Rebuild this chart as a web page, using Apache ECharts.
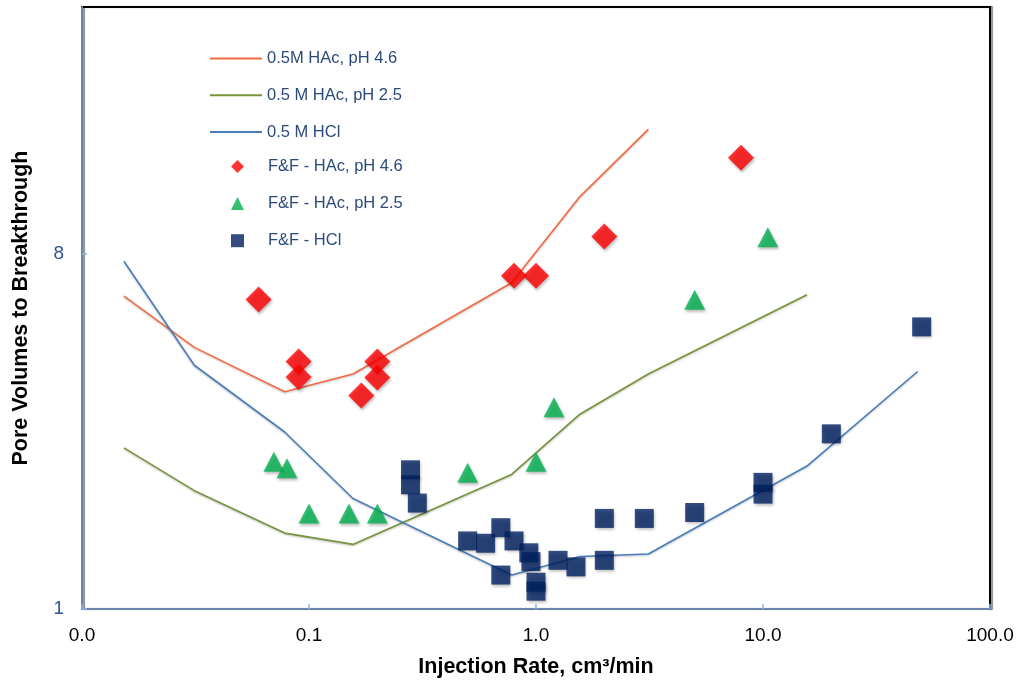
<!DOCTYPE html>
<html>
<head>
<meta charset="utf-8">
<title>Pore Volumes to Breakthrough vs Injection Rate</title>
<script src="https://cdn.jsdelivr.net/npm/echarts@6/dist/echarts.min.js"></script>
<style>
  html, body { margin: 0; padding: 0; background: #ffffff; }
  #chart { width: 1021px; height: 683px; }
</style>
</head>
<body>
<div id="chart"></div>
<script>
// Model curves (injection rate in cm3/min, pore volumes to breakthrough)
const modelRates = [0.0153, 0.03125, 0.078125, 0.15625, 0.78125, 1.5625, 3.125, 15.625, 48];
const pvModelHAc46 = [6.25, 4.63, 3.57, 3.96, 6.76, 11.2, 16.6];
const pvModelHAc25 = [2.57, 2.0, 1.56, 1.46, 2.2, 3.13, 3.96, 6.3];
const pvModelHCl = [7.67, 4.17, 2.82, 1.91, 1.22, 1.36, 1.38, 2.31, 4.02];

// Fredd & Fogler experimental points
const ffRateHAc46 = [0.06, 0.09, 0.09, 0.17, 0.2, 0.2, 0.8, 1.0, 2.0, 8.0];
const ffPvHAc46 = [6.13, 4.26, 3.89, 3.49, 4.26, 3.88, 7.04, 7.04, 8.87, 14.05];

const ffRateHAc25 = [0.07, 0.08, 0.1, 0.15, 0.2, 0.5, 1.0, 1.2, 5.0, 10.5];
const ffPvHAc25 = [2.37, 2.28, 1.75, 1.75, 1.75, 2.22, 2.37, 3.26, 6.12, 8.82];

const ffRateHCl = [0.28, 0.28, 0.3, 0.5, 0.6, 0.7, 0.8, 0.93, 0.95, 0.7, 1.0, 1.0, 1.25, 1.5, 2.0, 3.0, 2.0, 5.0, 10.0, 10.0, 20.0, 50.0];
const ffPvHCl = [2.26, 2.07, 1.86, 1.49, 1.47, 1.61, 1.49, 1.39, 1.32, 1.22, 1.17, 1.11, 1.33, 1.28, 1.70, 1.70, 1.33, 1.76, 2.10, 1.96, 2.79, 5.22];

// Axis tick labels
const xTickLabels = { '0.01': '0.0', '0.1': '0.1', '1': '1.0', '10': '10.0', '100': '100.0' };
const yTickLabels = { '1': '1', '8': '8' };

const names = {
  mHAc46: '0.5M HAc, pH 4.6',
  mHAc25: '0.5 M HAc, pH 2.5',
  mHCl: '0.5 M HCl',
  fHAc46: 'F&F - HAc, pH 4.6',
  fHAc25: 'F&F - HAc, pH 2.5',
  fHCl: 'F&F - HCl'
};

function pairs(xs, ys) {
  return ys.map((y, i) => [xs[i], y]);
}

function keyOf(v) {
  return String(parseFloat(v.toPrecision(6)));
}

const lineShadow = { shadowColor: 'rgba(0,0,0,0.25)', shadowBlur: 2, shadowOffsetY: 1 };
const markShadow = { shadowColor: 'rgba(0,0,0,0.35)', shadowBlur: 3, shadowOffsetX: 1, shadowOffsetY: 2 };
const legendText = { color: '#2b4a7a', fontSize: 16.5, lineHeight: 16 };

const chart = echarts.init(document.getElementById('chart'), null, { renderer: 'canvas' });

const option = {
  animation: false,
  backgroundColor: '#ffffff',
  textStyle: { fontFamily: '"Liberation Sans", Arial, sans-serif' },
  grid: {
    left: 82, right: 31, top: 7, bottom: 71,
    show: true,
    borderColor: '#000000',
    borderWidth: 2,
    shadowColor: 'rgba(0,0,0,0.45)',
    shadowBlur: 1,
    shadowOffsetX: 2,
    shadowOffsetY: 0
  },
  legend: [
    {
      left: 205, top: 45,
      orient: 'vertical',
      itemWidth: 52, itemHeight: 2, itemGap: 19.8,
      textStyle: legendText,
      data: [
        { name: names.mHAc46, icon: 'rect' },
        { name: names.mHAc25, icon: 'rect' },
        { name: names.mHCl, icon: 'rect' }
      ]
    },
    {
      left: 226, top: 153,
      orient: 'vertical',
      itemWidth: 13, itemHeight: 13, itemGap: 20.1,
      textStyle: Object.assign({ padding: [0, 0, 0, 19] }, legendText),
      data: [
        { name: names.fHAc46, icon: 'diamond' },
        { name: names.fHAc25, icon: 'triangle' },
        { name: names.fHCl, icon: 'rect' }
      ]
    }
  ],
  xAxis: {
    type: 'log',
    logBase: 10,
    min: 0.01,
    max: 100,
    interval: 1,
    name: 'Injection Rate, cm³/min',
    nameLocation: 'middle',
    nameGap: 47,
    nameTextStyle: { color: '#000000', fontSize: 21.5, fontWeight: 'bold' },
    axisLine: { show: true, lineStyle: { color: '#8eb4e3', width: 1.5 } },
    axisTick: { show: true, inside: true, length: 5, lineStyle: { color: '#8eb4e3', width: 1.5 } },
    axisLabel: {
      color: '#000000', fontSize: 19, margin: 17,
      formatter: v => xTickLabels[keyOf(v)] ?? ''
    },
    splitLine: { show: false },
    minorTick: { show: false }
  },
  yAxis: {
    type: 'log',
    logBase: 8,
    min: 1,
    max: 34,
    interval: 1,
    name: 'Pore Volumes to Breakthrough',
    nameLocation: 'middle',
    nameGap: 50,
    nameTextStyle: { color: '#000000', fontSize: 21.5, fontWeight: 'bold' },
    axisLine: { show: true, lineStyle: { color: '#8eb4e3', width: 1.5 } },
    axisTick: { show: true, inside: true, length: 5, lineStyle: { color: '#8eb4e3', width: 1.5 } },
    axisLabel: {
      color: '#2f5597', fontSize: 19, margin: 18,
      showMaxLabel: false,
      formatter: v => yTickLabels[keyOf(v)] ?? ''
    },
    splitLine: { show: false }
  },
  series: [
    {
      name: names.mHAc46, type: 'line', symbol: 'none', z: 2,
      data: pairs(modelRates, pvModelHAc46),
      lineStyle: Object.assign({ color: '#f26b43', width: 1.6 }, lineShadow),
      itemStyle: { color: '#f26b43' }
    },
    {
      name: names.mHAc25, type: 'line', symbol: 'none', z: 2,
      data: pairs(modelRates, pvModelHAc25),
      lineStyle: Object.assign({ color: '#77933c', width: 1.6 }, lineShadow),
      itemStyle: { color: '#77933c' }
    },
    {
      name: names.mHCl, type: 'line', symbol: 'none', z: 2,
      data: pairs(modelRates, pvModelHCl),
      lineStyle: Object.assign({ color: '#4a7ebb', width: 1.6 }, lineShadow),
      itemStyle: { color: '#4a7ebb' }
    },
    {
      name: names.fHAc46, type: 'scatter', symbol: 'diamond', symbolSize: 26, z: 3,
      data: pairs(ffRateHAc46, ffPvHAc46),
      itemStyle: Object.assign({ color: '#ff0000' }, markShadow)
    },
    {
      name: names.fHAc25, type: 'scatter', symbol: 'triangle', symbolSize: [21, 20], z: 3,
      data: pairs(ffRateHAc25, ffPvHAc25),
      itemStyle: Object.assign({ color: '#00b050' }, markShadow)
    },
    {
      name: names.fHCl, type: 'scatter', symbol: 'rect', symbolSize: 19, z: 3,
      data: pairs(ffRateHCl, ffPvHCl),
      itemStyle: Object.assign({ color: '#002060' }, markShadow)
    }
  ]
};

chart.setOption(option);
</script>
</body>
</html>
